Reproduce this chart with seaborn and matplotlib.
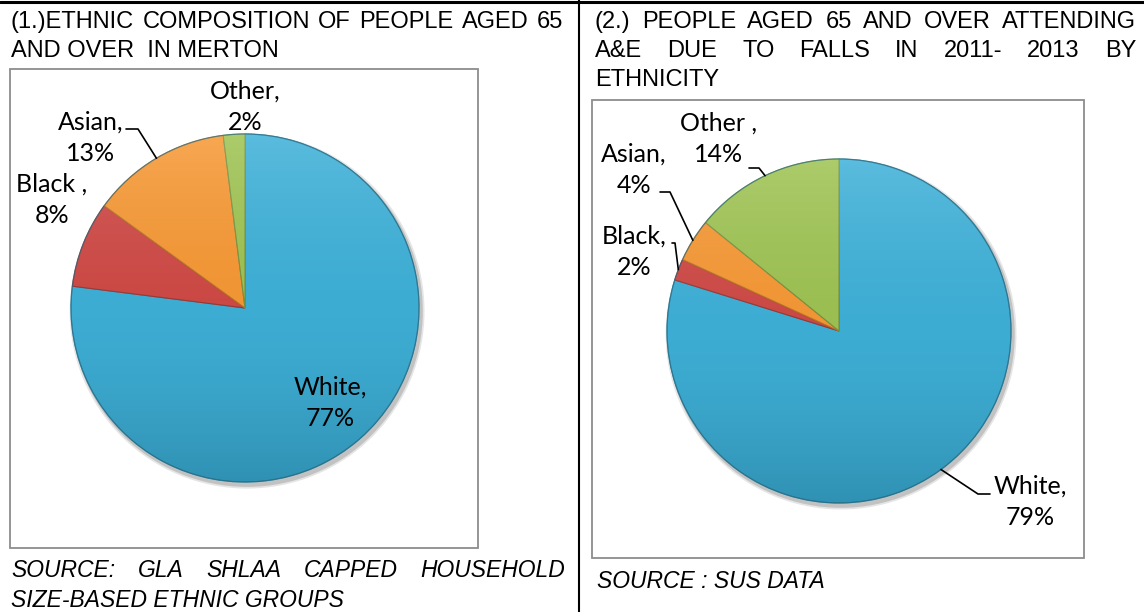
import numpy as np
import matplotlib
matplotlib.use("Agg")
import matplotlib.pyplot as plt
from matplotlib.patches import Circle, Rectangle
from matplotlib.lines import Line2D
import seaborn as sns

# data
groups = ["White", "Black", "Asian", "Other"]
merton_pct = [77, 8, 13, 2]
falls_pct = [79, 2, 4, 14]
merton_labels = ["White,\n77%", "Black ,\n8%", "Asian,\n13%", "Other,\n2%"]
falls_labels = ["White,\n79%", "Black,\n2%", "Asian,\n4%", "Other ,\n14%"]
slice_colors = ["#39AFD8", "#CF4541", "#F7962F", "#9CC24E"]

sns.set_theme(style="white")
plt.rcParams["font.family"] = ["Liberation Sans", "DejaVu Sans"]

W, H = 1144, 612
fig = plt.figure(figsize=(W / 100, H / 100), dpi=100)
fig.patch.set_facecolor("white")


def fx(x):
    return x / W


def fy(y):
    return 1 - y / H


def justify(words, x0, x1, y, **kw):
    texts = [fig.text(0, fy(y), w, ha="left", va="baseline", **kw) for w in words]
    rend = fig.canvas.get_renderer()
    widths = [t.get_window_extent(rend).width for t in texts]
    gap = (x1 - x0 - sum(widths)) / (len(words) - 1)
    x = x0
    for t, w in zip(texts, widths):
        t.set_x(fx(x))
        x += w + gap


# table lines
fig.add_artist(Line2D([0, 1], [fy(1.5), fy(1.5)], color="black", lw=2.2))
fig.add_artist(Line2D([fx(578.5), fx(578.5)], [0, 1], color="black", lw=1.5))

# chart frames
for (x0, y0, x1, y1) in [(9.5, 69, 478, 548), (592, 100, 1084, 558)]:
    fig.add_artist(Rectangle((fx(x0), fy(y1)), (x1 - x0) / W, (y1 - y0) / H,
                             fill=False, edgecolor="#8C8C8C", lw=1.3))

# titles
tkw = dict(fontsize=17, color="black")
justify("(1.)ETHNIC COMPOSITION OF PEOPLE AGED 65".split(" "), 11, 563, 28, **tkw)
fig.text(fx(11), fy(57), "AND OVER  IN MERTON", ha="left", va="baseline", **tkw)
justify("(2.) PEOPLE AGED 65 AND OVER ATTENDING".split(" "), 595, 1136, 28, **tkw)
justify("A&E DUE TO FALLS IN 2011- 2013 BY".split(" "), 595, 1136, 57, **tkw)
fig.text(fx(595), fy(86), "ETHNICITY", ha="left", va="baseline", **tkw)

# sources
skw = dict(fontsize=16.5, style="italic", color="black")
justify("SOURCE: GLA SHLAA CAPPED HOUSEHOLD".split(" "), 11, 565, 577, **skw)
fig.text(fx(11), fy(607), "SIZE-BASED ETHNIC GROUPS", ha="left", va="baseline", **skw)
fig.text(fx(597), fy(588), "SOURCE : SUS DATA", ha="left", va="baseline", **skw)


def draw_pie(values, labels, cx, cy, r, label_pos, leaders):
    pad = 8
    ax = fig.add_axes([fx(cx - r - pad), fy(cy + r + pad), (2 * r + 2 * pad) / W, (2 * r + 2 * pad) / H])
    lim = (r + pad) / r
    ax.axis("off")
    # soft shadow under the pie
    for k, a in [(1.02, 0.10), (1.01, 0.15)]:
        ax.add_patch(Circle((0.012, -0.018), k, color="black", alpha=a, lw=0, zorder=0))
    wedges, _ = ax.pie(values, colors=slice_colors, startangle=90, counterclock=False,
                       radius=1, wedgeprops=dict(lw=0.8))
    for wdg in wedges:
        wdg.set_edgecolor(tuple(c * 0.75 for c in wdg.get_facecolor()[:3]))
    # light top / dark bottom shading
    g = np.linspace(1, 0, 256)
    img = np.zeros((256, 1, 4))
    img[:, 0, 0] = g
    img[:, 0, 1] = g
    img[:, 0, 2] = g
    img[:, 0, 3] = 0.05 + 0.12 * np.abs(g - 0.5) * 2
    im = ax.imshow(img, extent=(-1, 1, -1, 1), aspect="auto", zorder=3)
    im.set_clip_path(Circle((0, 0), 1, transform=ax.transData))
    ax.add_patch(Circle((0, 0), 1, fill=False, edgecolor="#2a6f86", lw=0.9, alpha=0.6, zorder=4))
    ax.set_xlim(-lim, lim)
    ax.set_ylim(-lim, lim)

    total = float(sum(values))
    start = 90.0
    for i, v in enumerate(values):
        span = 360 * v / total
        mid = np.deg2rad(start - span / 2)
        start -= span
        px, py = label_pos[i]
        ax.text((px - cx) / r, (cy - py) / r, labels[i], ha="center", va="center",
                fontsize=18, family=["Lato", "DejaVu Sans"], color="black",
                linespacing=1.45, zorder=6)
        if leaders[i] is not None:
            (ex, ey), elbow = leaders[i]
            tip = (np.cos(mid), np.sin(mid))
            pts = [((ex - cx) / r, (cy - ey) / r), ((ex + elbow - cx) / r, (cy - ey) / r), tip]
            ax.plot([p[0] for p in pts], [p[1] for p in pts], color="black", lw=1.2,
                    clip_on=False, zorder=5)


draw_pie(merton_pct, merton_labels, 245, 308, 174,
         [(330, 403), (52, 200), (91, 138), (245, 107)],
         [None, None, ((126, 129), 12), None])
draw_pie(falls_pct, falls_labels, 839, 331, 172,
         [(1030, 502), (634, 252), (634, 170), (719, 139)],
         [((990, 494), -12), ((672, 243), 3), ((660, 192), 10), ((749, 168), 10)])

fig.savefig("out.png", dpi=100, facecolor="white")
